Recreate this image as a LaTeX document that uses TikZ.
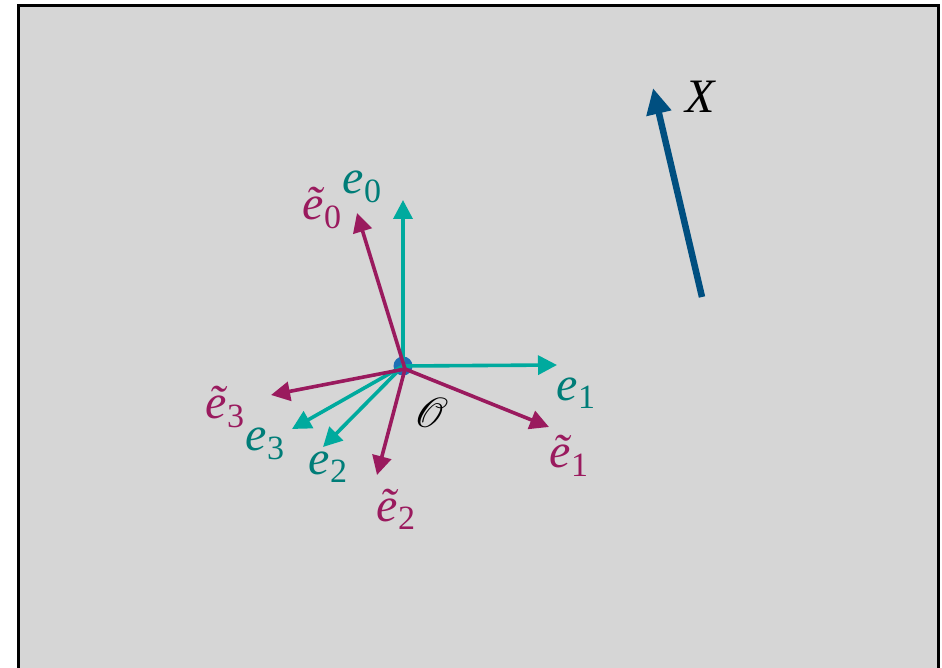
\documentclass[tikz,border=0pt]{standalone}
\usepackage{fontspec}
\setmainfont{Liberation Serif}
\usepackage{graphicx}
\usepackage{mathrsfs}
\usetikzlibrary{arrows.meta}
\definecolor{bgc}{HTML}{D6D6D6}
\definecolor{tealA}{HTML}{00AA9E}
\definecolor{tealL}{HTML}{007D78}
\definecolor{magA}{HTML}{9A1A5E}
\definecolor{blueX}{HTML}{004F80}
\definecolor{dotc}{HTML}{1D6FB5}
\newcommand{\elab}[2]{{\itshape #1}\raisebox{-0.38ex}{\fontsize{34}{34}\selectfont #2}}
\begin{document}
\begin{tikzpicture}[x=1pt,y=-1pt,
  vec/.style={line width=3.6pt,-{Triangle[length=19pt,width=19pt]}},
  tvec/.style={vec,tealA},
  mvec/.style={vec,magA},
  lab/.style={inner sep=0pt,font=\fontsize{48}{50}\selectfont},
  tlab/.style={lab,text=tealL},
  mlab/.style={lab,text=magA}]
\useasboundingbox (0,0) rectangle (942,668);
\fill[white] (0,0) rectangle (942,668);
\fill[bgc,draw=black,line width=3pt] (18,6) rectangle (938,720);
% origins and tips
\coordinate (O) at (403,366);
\coordinate (Om) at (405,369);
\coordinate (t0) at (403,200);
\coordinate (t1) at (557,365);
\coordinate (t2) at (323,447);
\coordinate (t3) at (292,429);
\coordinate (m0) at (357,213);
\coordinate (m1) at (549,427);
\coordinate (m2) at (377,475);
\coordinate (m3) at (271,395);
\coordinate (xs) at (702,297);
\coordinate (xt) at (653,88);
\fill[dotc] (O) circle (9.5);
\draw[tvec] (O) -- (t0);
\draw[tvec] (O) -- (t1);
\draw[tvec] (O) -- (t2);
\draw[tvec] (O) -- (t3);
\draw[mvec] (Om) -- (m0);
\draw[mvec] (Om) -- (m1);
\draw[mvec] (Om) -- (m2);
\draw[mvec] (Om) -- (m3);
\draw[blueX,line width=6.5pt,-{Triangle[length=26pt,width=24pt]}] (xs) -- (xt);
% labels
\node[tlab] (le0) at (362,187) {\elab{e}{0}};
\node[mlab] (lm0) at (322,208) {\elab{ẽ}{0}};
\node[tlab] (le1) at (576,393) {\elab{e}{1}};
\node[mlab] (lm1) at (569,456) {\elab{ẽ}{1}};
\node[tlab] (le2) at (328,467) {\elab{e}{2}};
\node[mlab] (lm2) at (396,509) {\elab{ẽ}{2}};
\node[tlab] (le3) at (265,444) {\elab{e}{3}};
\node[mlab] (lm3) at (225,407) {\elab{ẽ}{3}};
\node[inner sep=0pt] (lO) at (431,413) {\scalebox{4.2}{$\mathscr{O}$}};
\node[lab] (lX) at (700,97) {\itshape X};
\end{tikzpicture}
\end{document}
